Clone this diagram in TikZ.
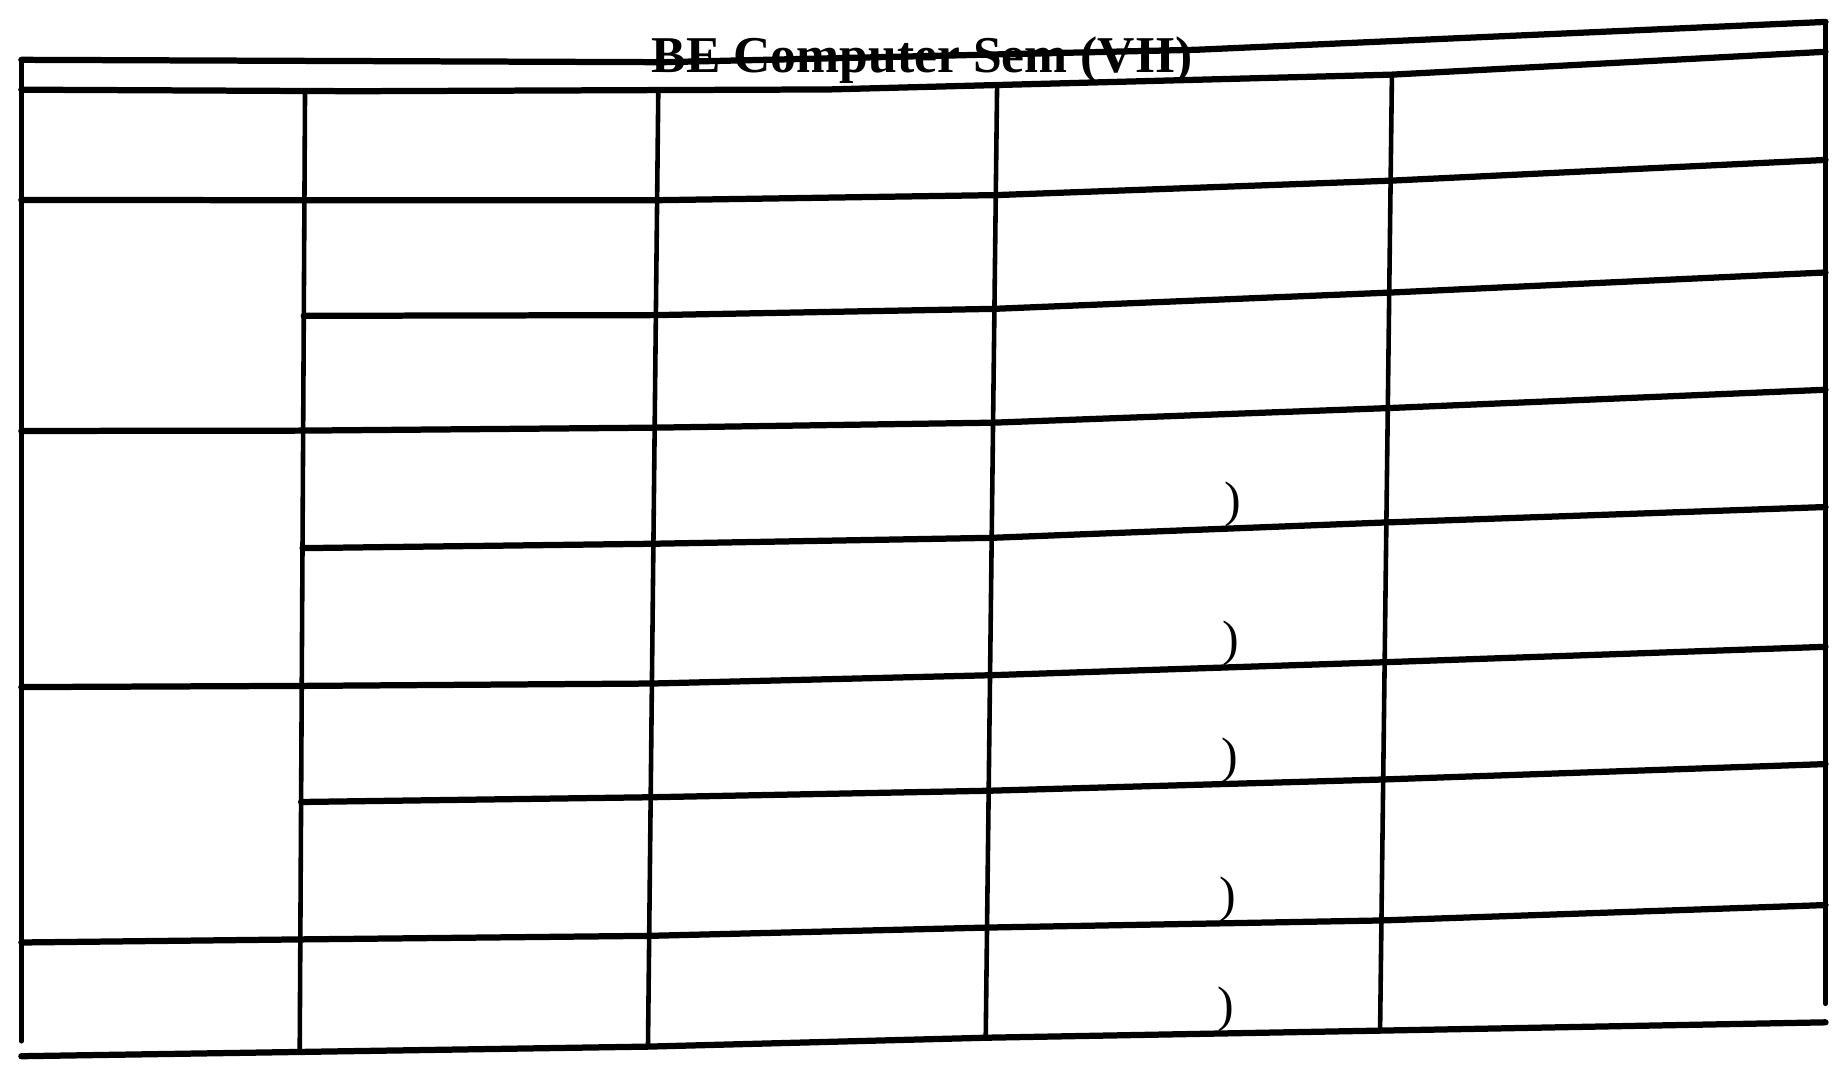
\documentclass[tikz,border=0pt]{standalone}
\usepackage{fontspec}
\setmainfont{Liberation Serif}
\usetikzlibrary{calc}
\begin{document}
\begin{tikzpicture}[x=0.1mm, y=-0.1mm, line join=round, line cap=round,
	hline/.style={line width=1.5pt},
	vline/.style={line width=1.1pt},
	paren/.style={anchor=south, inner sep=0pt, font=\fontsize{12}{14}\selectfont}]
				\useasboundingbox (0,0) rectangle (1560,908);
				% title band
				\coordinate (t0) at (18,50.5);
				\coordinate (t1) at (560,52.5);
				\coordinate (t2) at (1010,42);
				\coordinate (t3) at (1541,18.5);
				\coordinate (h0) at (18,75.7);
				\coordinate (h1) at (300,77);
				\coordinate (h2) at (700,75.5);
				\coordinate (h3) at (1175,63);
				\coordinate (h4) at (1541,43.7);
				% column tops
				\coordinate (b0) at (257.5,76.5);
				\coordinate (c0) at (555.7,76.5);
				\coordinate (d0) at (841.7,72);
				\coordinate (e0) at (1175,63);
				\coordinate (lb) at (18,879);
				\coordinate (rb) at (1541,847);
				% rows
				\coordinate (a1) at (18,168.8);
				\coordinate (b1) at (257,169);
				\coordinate (c1) at (554.7,169);
				\coordinate (d1) at (840.6,164.7);
				\coordinate (e1) at (1173.9,152.5);
				\coordinate (f1) at (1541,135);
				\coordinate (b2) at (256.4,266.6);
				\coordinate (c2) at (553.7,266);
				\coordinate (d2) at (839.5,260.7);
				\coordinate (e2) at (1172.7,247);
				\coordinate (f2) at (1541,230);
				\coordinate (a3) at (18,363.8);
				\coordinate (b3) at (255.9,363.5);
				\coordinate (c3) at (552.6,361);
				\coordinate (d3) at (838.3,356.8);
				\coordinate (e3) at (1171.5,344.5);
				\coordinate (f3) at (1541,329);
				\coordinate (b4) at (255.4,462.7);
				\coordinate (c4) at (551.6,459);
				\coordinate (d4) at (837.2,454);
				\coordinate (e4) at (1170.3,441);
				\coordinate (f4) at (1541,428);
				\coordinate (a5) at (18,580);
				\coordinate (b5) at (254.7,579);
				\coordinate (c5) at (550.3,577);
				\coordinate (d5) at (835.8,570);
				\coordinate (e5) at (1168.9,559);
				\coordinate (f5) at (1541,546);
				\coordinate (b6) at (254.2,677);
				\coordinate (c6) at (549.3,673);
				\coordinate (d6) at (834.6,667.5);
				\coordinate (e6) at (1167.6,658);
				\coordinate (f6) at (1541,645);
				\coordinate (a7) at (18,795.6);
				\coordinate (b7) at (253.5,793);
				\coordinate (c7) at (548,790);
				\coordinate (d7) at (833.2,783);
				\coordinate (e7) at (1166.2,777);
				\coordinate (f7) at (1541,764);
				\coordinate (a8) at (18,891.6);
				\coordinate (b8) at (253,888);
				\coordinate (c8) at (547,883.5);
				\coordinate (d8) at (832.1,876);
				\coordinate (e8) at (1165,870);
				\coordinate (f8) at (1541,863);
				\draw[hline] (t0)--(t1)--(t2)--(t3);
				\draw[hline] (h0)--(h1)--(h2)--(h3)--(h4);
				\draw[hline] (a1)--(b1)--(c1)--(d1)--(e1)--(f1);
				\draw[hline] (b2)--(c2)--(d2)--(e2)--(f2);
				\draw[hline] (a3)--(b3)--(c3)--(d3)--(e3)--(f3);
				\draw[hline] (b4)--(c4)--(d4)--(e4)--(f4);
				\draw[hline] (a5)--(b5)--(c5)--(d5)--(e5)--(f5);
				\draw[hline] (b6)--(c6)--(d6)--(e6)--(f6);
				\draw[hline] (a7)--(b7)--(c7)--(d7)--(e7)--(f7);
				\draw[hline] (a8)--(b8)--(c8)--(d8)--(e8)--(f8);
				\draw[vline] (t0)--(lb);
				\draw[vline, line width=1.3pt] (t3)--(rb);
				\draw[vline] (b0)--(b8);
				\draw[vline] (c0)--(c8);
				\draw[vline] (d0)--(d8);
				\draw[vline] (e0)--(e8);
				\node[anchor=base, font=\bfseries\fontsize{12.4}{14}\selectfont] (title) at (778.5,61) {BE Computer Sem (VII)};
				\node[paren] (p4) at ($(d4)!0.61!(e4)$) {)};
				\node[paren] (p5) at ($(d5)!0.61!(e5)$) {)};
				\node[paren] (p6) at ($(d6)!0.61!(e6)$) {)};
				\node[paren] (p7) at ($(d7)!0.61!(e7)$) {)};
				\node[paren] (p8) at ($(d8)!0.61!(e8)$) {)};
\end{tikzpicture}
\end{document}
